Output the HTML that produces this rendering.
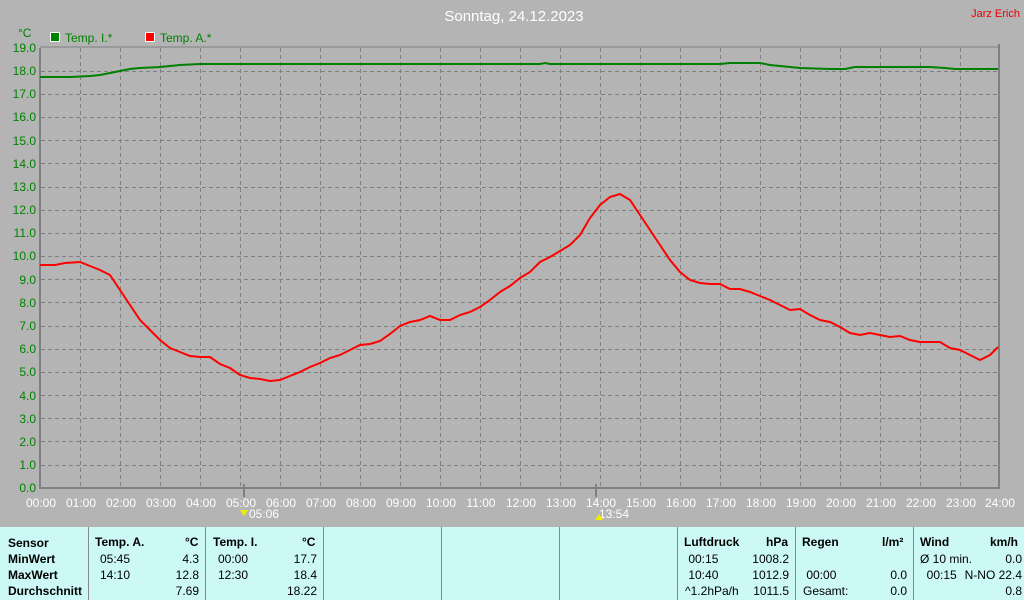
<!DOCTYPE html>
<html><head><meta charset="utf-8"><style>
body{margin:0;width:1024px;height:600px;background:#b4b4b4;overflow:hidden;font-family:"Liberation Sans",sans-serif;position:relative}
.t{position:absolute;font-size:12px;color:#000}
.b{font-weight:bold}
</style></head><body>
<svg width="1024" height="600" style="position:absolute;left:0;top:0" font-family="Liberation Sans, sans-serif">
<text x="514" y="21" fill="#fff" font-size="15" text-anchor="middle">Sonntag, 24.12.2023</text>
<text x="1020" y="17" fill="#e00" font-size="11" text-anchor="end">Jarz Erich</text>
<text x="18" y="37" fill="#008000" font-size="12">°C</text>
<rect x="50.5" y="32.5" width="9" height="9" fill="#008000" stroke="#fff"/>
<text x="65" y="42" fill="#008000" font-size="12">Temp. I.*</text>
<rect x="145.5" y="32.5" width="9" height="9" fill="#f00" stroke="#fff"/>
<text x="160" y="42" fill="#008000" font-size="12">Temp. A.*</text>
<g stroke="#808080" stroke-dasharray="4,3" stroke-width="1">
<path d="M80.5 48V487M120.5 48V487M160.5 48V487M200.5 48V487M240.5 48V487M280.5 48V487M320.5 48V487M360.5 48V487M400.5 48V487M440.5 48V487M480.5 48V487M520.5 48V487M560.5 48V487M600.5 48V487M640.5 48V487M680.5 48V487M720.5 48V487M760.5 48V487M800.5 48V487M840.5 48V487M880.5 48V487M920.5 48V487M960.5 48V487"/>
<path d="M41 71.5H998M41 94.5H998M41 117.5H998M41 140.5H998M41 163.5H998M41 187.5H998M41 210.5H998M41 233.5H998M41 256.5H998M41 279.5H998M41 302.5H998M41 326.5H998M41 349.5H998M41 372.5H998M41 395.5H998M41 418.5H998M41 441.5H998M41 465.5H998"/>
</g>
<path d="M40 48V488H999V44" stroke="#808080" stroke-width="2" fill="none"/>
<path d="M40 47H999" stroke="#808080" stroke-width="1"/>
<path d="M244 484V497M596 484V497" stroke="#808080" stroke-width="2"/>
<g fill="#008000" font-size="12" text-anchor="end">
<text x="36" y="52">19.0</text><text x="36" y="75">18.0</text><text x="36" y="98">17.0</text><text x="36" y="121">16.0</text><text x="36" y="145">15.0</text><text x="36" y="168">14.0</text><text x="36" y="191">13.0</text><text x="36" y="214">12.0</text><text x="36" y="237">11.0</text><text x="36" y="260">10.0</text><text x="36" y="284">9.0</text><text x="36" y="307">8.0</text><text x="36" y="330">7.0</text><text x="36" y="353">6.0</text><text x="36" y="376">5.0</text><text x="36" y="400">4.0</text><text x="36" y="423">3.0</text><text x="36" y="446">2.0</text><text x="36" y="469">1.0</text><text x="36" y="492">0.0</text>
</g>
<g fill="#fff" font-size="12" text-anchor="middle">
<text x="41" y="507">00:00</text><text x="81" y="507">01:00</text><text x="121" y="507">02:00</text><text x="161" y="507">03:00</text><text x="201" y="507">04:00</text><text x="241" y="507">05:00</text><text x="281" y="507">06:00</text><text x="321" y="507">07:00</text><text x="361" y="507">08:00</text><text x="401" y="507">09:00</text><text x="441" y="507">10:00</text><text x="481" y="507">11:00</text><text x="521" y="507">12:00</text><text x="561" y="507">13:00</text><text x="601" y="507">14:00</text><text x="641" y="507">15:00</text><text x="681" y="507">16:00</text><text x="721" y="507">17:00</text><text x="761" y="507">18:00</text><text x="801" y="507">19:00</text><text x="841" y="507">20:00</text><text x="881" y="507">21:00</text><text x="921" y="507">22:00</text><text x="961" y="507">23:00</text><text x="1000" y="507">24:00</text>
<text x="264" y="518">05:06</text><text x="614" y="518">13:54</text>
</g>
<path d="M240 510l4 6 4-6z" fill="#ee0"/><path d="M595 520l4-6 4 6z" fill="#ee0"/>
<polyline fill="none" stroke="#008000" stroke-width="2" points="40,77 70,77 90,76 100,75 110,73 120,71 130,69 140,68 160,67 170,66 180,65 200,64 540,64 545,63 550,64 720,64 730,63 760,63 770,65 790,67 800,68 830,69 845,69 855,67 880,67 930,67 945,68 955,69 998,69"/>
<polyline fill="none" stroke="#f00" stroke-width="2" points="40,265 55,265 65,263 80,262 90,266 100,270 110,275 120,290 130,305 140,320 150,330 160,340 170,348 180,352 190,356 200,357 210,357 220,364 230,368 240,375 250,378 260,379 270,381 280,380 290,376 300,372 310,367 320,363 330,358 340,355 350,350 360,345 370,344 380,341 390,334 400,326 410,322 420,320 430,316 440,320 450,320 460,315 470,312 480,307 490,300 500,292 510,286 520,278 530,272 540,262 550,257 560,251 570,245 580,235 590,218 600,205 610,197 620,194 630,200 640,215 650,230 660,245 670,260 680,272 690,280 700,283 710,284 720,284 730,289 740,289 750,292 760,296 770,300 780,305 790,310 800,309 810,315 820,320 830,322 840,327 850,333 860,335 870,333 880,335 890,337 900,336 910,340 920,342 930,342 940,342 950,348 960,350 970,355 980,360 990,355 998,347"/>
</svg>
<div style="position:absolute;left:0;top:527px;width:1024px;height:73px;background:#ccf8f6"></div>
<div style="position:absolute;top:527px;height:73px;left:88px;width:1px;background:#888"></div>
<div style="position:absolute;top:527px;height:73px;left:205px;width:1px;background:#888"></div>
<div style="position:absolute;top:527px;height:73px;left:323px;width:1px;background:#888"></div>
<div style="position:absolute;top:527px;height:73px;left:441px;width:1px;background:#888"></div>
<div style="position:absolute;top:527px;height:73px;left:559px;width:1px;background:#888"></div>
<div style="position:absolute;top:527px;height:73px;left:677px;width:1px;background:#888"></div>
<div style="position:absolute;top:527px;height:73px;left:795px;width:1px;background:#888"></div>
<div style="position:absolute;top:527px;height:73px;left:913px;width:1px;background:#888"></div>
<div class="t b" style="left:8px;top:535px;line-height:16px">Sensor<br>MinWert<br>MaxWert<br>Durchschnitt</div>
<div class="t b" style="left:95px;top:535px">Temp. A.</div><div class="t b" style="left:185px;top:535px">°C</div>
<div class="t" style="left:100px;top:551px;line-height:16px">05:45<br>14:10</div>
<div class="t" style="left:160px;top:551px;width:39px;text-align:right;line-height:16px">4.3<br>12.8<br>7.69</div>
<div class="t b" style="left:213px;top:535px">Temp. I.</div><div class="t b" style="left:302px;top:535px">°C</div>
<div class="t" style="left:218px;top:551px;line-height:16px">00:00<br>12:30</div>
<div class="t" style="left:270px;top:551px;width:47px;text-align:right;line-height:16px">17.7<br>18.4<br>18.22</div>
<div class="t b" style="left:684px;top:535px">Luftdruck</div><div class="t b" style="left:766px;top:535px">hPa</div>
<div class="t" style="left:685px;top:551px;line-height:16px">&nbsp;00:15<br>&nbsp;10:40<br>^1.2hPa/h</div>
<div class="t" style="left:740px;top:551px;width:49px;text-align:right;line-height:16px">1008.2<br>1012.9<br>1011.5</div>
<div class="t b" style="left:802px;top:535px">Regen</div><div class="t b" style="left:882px;top:535px">l/m²</div>
<div class="t" style="left:803px;top:551px;line-height:16px">&nbsp;<br>&nbsp;00:00<br>Gesamt:</div>
<div class="t" style="left:860px;top:551px;width:47px;text-align:right;line-height:16px">&nbsp;<br>0.0<br>0.0</div>
<div class="t b" style="left:920px;top:535px">Wind</div><div class="t b" style="left:990px;top:535px">km/h</div>
<div class="t" style="left:920px;top:551px;line-height:16px">Ø 10 min.<br>&nbsp;&nbsp;00:15</div>
<div class="t" style="left:950px;top:551px;width:72px;text-align:right;line-height:16px">0.0<br>N-NO 22.4<br>0.8</div>
</body></html>
